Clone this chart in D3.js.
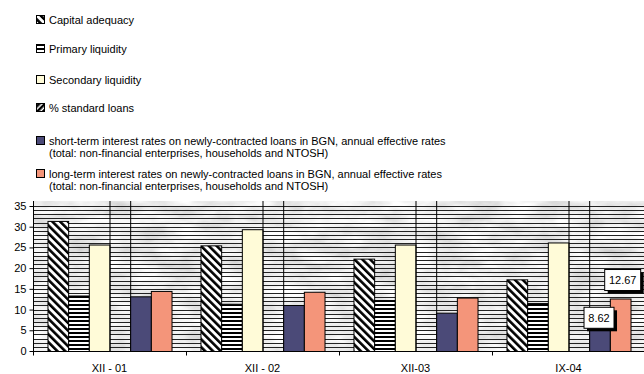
<!DOCTYPE html>
<html>
<head>
<meta charset="utf-8">
<script src="https://cdn.jsdelivr.net/npm/d3@7/dist/d3.min.js"></script>
<style>
  html, body { margin: 0; padding: 0; background: #fff; }
  svg { display: block; font-family: "Liberation Sans", Arial, sans-serif; }
</style>
</head>
<body>
<svg id="chart" width="644" height="374"></svg>
<script>
// Banking indicators by period (%)
const categories = ["XII - 01", "XII - 02", "XII-03", "IX-04"];
const capitalAdequacy   = [31.4, 25.5, 22.3, 17.3];
const primaryLiquidity  = [13.4, 11.4, 12.3, 11.6];
const secondaryLiquidity= [25.7, 29.4, 25.7, 26.2];
const standardLoans     = [91.5, 93.0, 94.5, 95.0];
const shortTermRates    = [13.2, 11.1, 9.25, 8.62];
const longTermRates     = [14.5, 14.3, 12.9, 12.67];
const yTicks = [0, 5, 10, 15, 20, 25, 30, 35];

const seriesNames = [
  "Capital adequacy",
  "Primary liquidity",
  "Secondary liquidity",
  "% standard loans",
  "short-term interest rates on newly-contracted loans in BGN, annual effective rates\n(total: non-financial enterprises, households and NTOSH)",
  "long-term interest rates on newly-contracted loans in BGN, annual effective rates\n(total: non-financial enterprises, households and NTOSH)"
];
const seriesValues = [capitalAdequacy, primaryLiquidity, secondaryLiquidity, standardLoans, shortTermRates, longTermRates];
const seriesFills = ["url(#pCA)", "url(#pPL)", "#fffbd8", "url(#pSL)", "#4b4a78", "#f4957a"];
const chartFills  = ["url(#pCA)", "url(#pPL)", "#fffbd8", "none", "#4b4a78", "#f4957a"];

const svg = d3.select("#chart");
const defs = svg.append("defs");

// hatch patterns
const pCA = defs.append("pattern").attr("id", "pCA").attr("patternUnits", "userSpaceOnUse")
  .attr("width", 5.5).attr("height", 5.5).attr("patternTransform", "rotate(-45)");
pCA.append("rect").attr("width", 5.5).attr("height", 5.5).attr("fill", "#fff");
pCA.append("rect").attr("width", 2.6).attr("height", 5.5).attr("fill", "#000");

const pSL = defs.append("pattern").attr("id", "pSL").attr("patternUnits", "userSpaceOnUse")
  .attr("width", 4).attr("height", 4).attr("patternTransform", "rotate(45)");
pSL.append("rect").attr("width", 4).attr("height", 4).attr("fill", "#fff");
pSL.append("rect").attr("width", 2.5).attr("height", 4).attr("fill", "#000");

const pPL = defs.append("pattern").attr("id", "pPL").attr("patternUnits", "userSpaceOnUse")
  .attr("width", 4).attr("height", 4);
pPL.append("rect").attr("width", 4).attr("height", 4).attr("fill", "#fff");
pPL.append("rect").attr("width", 4).attr("height", 2).attr("fill", "#000");

// marbled grey backdrop
const f = defs.append("filter").attr("id", "marble").attr("x", 0).attr("y", 0).attr("width", 1).attr("height", 1);
f.append("feTurbulence").attr("type", "fractalNoise").attr("baseFrequency", "0.03 0.07")
  .attr("numOctaves", 4).attr("seed", 11).attr("result", "noise");
f.append("feColorMatrix").attr("in", "noise").attr("type", "matrix")
  .attr("values", "-0.55 0 0 0 1.13  -0.55 0 0 0 1.13  -0.55 0 0 0 1.13  0 0 0 0 1")
  .attr("result", "grey");

const clip = defs.append("clipPath").attr("id", "plotClip");

const plot = { left: 33, right: 645, top: 201, bottom: 351 };
clip.append("rect").attr("x", plot.left).attr("y", plot.top)
  .attr("width", plot.right - plot.left).attr("height", plot.bottom - plot.top);

const x = d3.scaleBand().domain(categories).range([plot.left, plot.right]).padding(0);
const xs = d3.scaleBand().domain(d3.range(seriesNames.length)).range([0, x.bandwidth()])
  .paddingInner(0).paddingOuter(0.7);
const y = d3.scaleLinear().domain([0, 35]).range([plot.bottom, 206]);

// backdrop
svg.append("rect").attr("x", plot.left).attr("y", plot.top)
  .attr("width", plot.right - plot.left).attr("height", plot.bottom - plot.top)
  .attr("fill", "#ddd").attr("filter", "url(#marble)");

// dense horizontal rules, one per unit
svg.append("g").selectAll("line").data(d3.range(1, 36)).join("line")
  .attr("x1", plot.left).attr("x2", plot.right)
  .attr("y1", d => Math.round(y(d)) + 0.5).attr("y2", d => Math.round(y(d)) + 0.5)
  .attr("stroke", "#222").attr("stroke-width", 1);

// bars
const bars = svg.append("g").attr("clip-path", "url(#plotClip)");
seriesValues.forEach((vals, si) => {
  bars.append("g").selectAll("rect").data(vals).join("rect")
    .attr("x", (d, i) => x(categories[i]) + xs(si) + 0.5)
    .attr("width", xs.bandwidth())
    .attr("y", d => y(d) + 0.5)
    .attr("height", d => plot.bottom - y(d))
    .attr("fill", chartFills[si])
    .attr("stroke", "#000").attr("stroke-width", 1);
});

// axes
const yAxis = svg.append("g").attr("transform", `translate(${plot.left + 0.5},0)`)
  .call(d3.axisLeft(y).tickValues(yTicks).tickSize(4).tickPadding(3));
yAxis.selectAll(".domain").attr("stroke", "#000").attr("d", `M0,${plot.top}V${plot.bottom + 0.5}`);
yAxis.selectAll("text").attr("font-size", 11).attr("fill", "#000")
  .attr("font-family", "Liberation Sans, Arial, sans-serif");

const xAxisG = svg.append("g").attr("transform", `translate(0,${plot.bottom + 0.5})`);
xAxisG.append("line").attr("x1", plot.left).attr("x2", plot.right).attr("stroke", "#000");
xAxisG.selectAll(".tk").data(categories).join("line").attr("class", "tk")
  .attr("x1", d => Math.round(x(d)) + 0.5).attr("x2", d => Math.round(x(d)) + 0.5)
  .attr("y1", 0).attr("y2", 4).attr("stroke", "#000");
xAxisG.selectAll("text").data(categories).join("text")
  .attr("x", d => x(d) + x.bandwidth() / 2).attr("y", 20)
  .attr("text-anchor", "middle").attr("font-size", 11).attr("fill", "#000")
  .text(d => d);

// value labels on the last period
const fmt = d3.format(".2f");
const last = categories.length - 1;
const labelSpecs = [
  { si: 4, dx: -1, dy: 2 },
  { si: 5, dx: 2, dy: -19 }
];
labelSpecs.forEach(s => {
  const v = seriesValues[s.si][last];
  const cx = x(categories[last]) + xs(s.si) + xs.bandwidth() / 2 + s.dx;
  const cy = y(v) + s.dy;
  const t = fmt(v);
  const w = t.length * 6 + 6, h = 21;
  const g = svg.append("g");
  g.append("rect").attr("x", cx - w / 2 + 3.5).attr("y", cy - h / 2 + 3.5)
    .attr("width", w).attr("height", h).attr("fill", "#000");
  g.append("rect").attr("x", cx - w / 2 + 0.5).attr("y", cy - h / 2 + 0.5)
    .attr("width", w).attr("height", h).attr("fill", "#fff").attr("stroke", "#000");
  g.append("text").attr("x", cx + 0.5).attr("y", cy + 4.5).attr("text-anchor", "middle")
    .attr("font-size", 11).attr("fill", "#000").text(t);
});

// legend
const legendRows = [20, 49, 80, 108, 141, 174];
const lg = svg.append("g");
seriesNames.forEach((name, i) => {
  const ry = legendRows[i];
  lg.append("rect").attr("x", 36.5).attr("y", ry - 4.5).attr("width", 8).attr("height", 8)
    .attr("fill", seriesFills[i]).attr("stroke", "#000");
  const lines = name.split("\n");
  lines.forEach((ln, j) => {
    lg.append("text").attr("x", 49).attr("y", ry + 4 + j * 12)
      .attr("font-size", 11).attr("fill", "#000").text(ln);
  });
});
</script>
</body>
</html>
